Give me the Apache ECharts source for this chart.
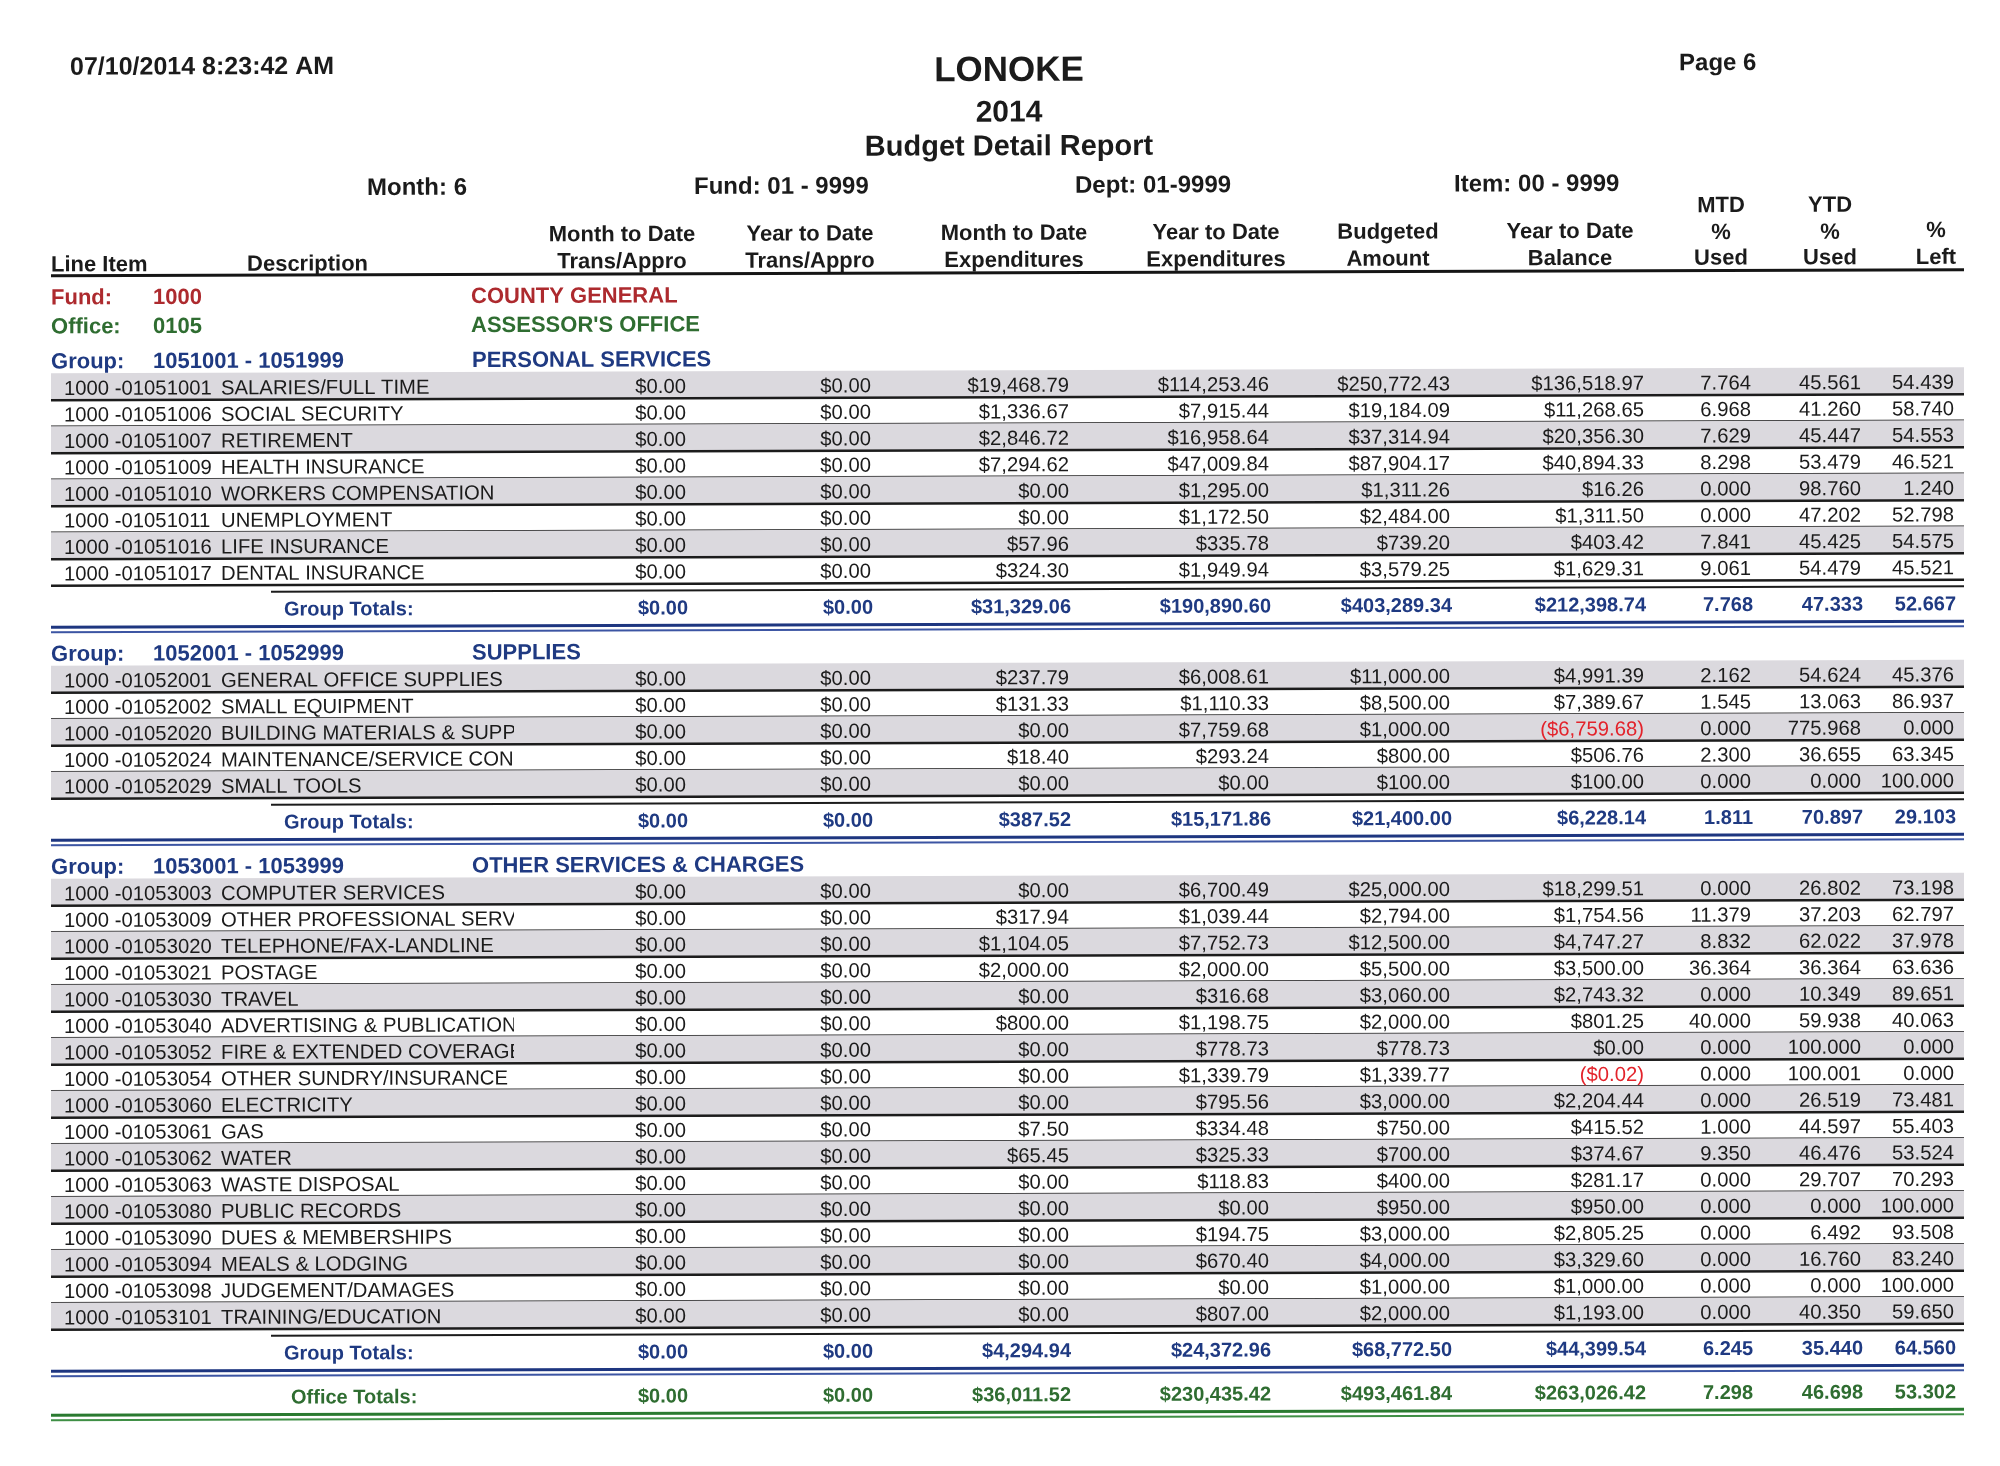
<!DOCTYPE html>
<html>
<head>
<meta charset="utf-8">
<script src="https://cdn.jsdelivr.net/npm/echarts@6/dist/echarts.min.js"></script>
<style>
html, body { margin: 0; padding: 0; background: #fff; }
#main { width: 2000px; height: 1466px; }
</style>
</head>
<body>
<div id="main"></div>
<script>
// report header texts
const runStamp = '07/10/2014 8:23:42 AM'
const pageLabel = 'Page 6'
const reportTitle = ['LONOKE', '2014', 'Budget Detail Report']
const filters = ['Month: 6', 'Fund: 01 - 9999', 'Dept: 01-9999', 'Item: 00 - 9999']
const columnHeads = [
  ['Month to Date', 'Trans/Appro'],
  ['Year to Date', 'Trans/Appro'],
  ['Month to Date', 'Expenditures'],
  ['Year to Date', 'Expenditures'],
  ['Budgeted', 'Amount'],
  ['Year to Date', 'Balance'],
  ['MTD', '%', 'Used'],
  ['YTD', '%', 'Used'],
  ['%', 'Left']
]
const fundLine = ['Fund:', '1000', 'COUNTY GENERAL']
const officeLine = ['Office:', '0105', "ASSESSOR'S OFFICE"]

const groupCodes = ['1051001 - 1051999', '1052001 - 1052999', '1053001 - 1053999']
const groupNames = ['PERSONAL SERVICES', 'SUPPLIES', 'OTHER SERVICES & CHARGES']

// account, description, MTD trans, YTD trans, MTD exp, YTD exp, budget, YTD balance, MTD %, YTD %, % left
const personalServices = [
  ['1000 -01051001', 'SALARIES/FULL TIME', 0, 0, 19468.79, 114253.46, 250772.43, 136518.97, 7.764, 45.561, 54.439],
  ['1000 -01051006', 'SOCIAL SECURITY', 0, 0, 1336.67, 7915.44, 19184.09, 11268.65, 6.968, 41.260, 58.740],
  ['1000 -01051007', 'RETIREMENT', 0, 0, 2846.72, 16958.64, 37314.94, 20356.30, 7.629, 45.447, 54.553],
  ['1000 -01051009', 'HEALTH INSURANCE', 0, 0, 7294.62, 47009.84, 87904.17, 40894.33, 8.298, 53.479, 46.521],
  ['1000 -01051010', 'WORKERS COMPENSATION', 0, 0, 0, 1295.00, 1311.26, 16.26, 0.000, 98.760, 1.240],
  ['1000 -01051011', 'UNEMPLOYMENT', 0, 0, 0, 1172.50, 2484.00, 1311.50, 0.000, 47.202, 52.798],
  ['1000 -01051016', 'LIFE INSURANCE', 0, 0, 57.96, 335.78, 739.20, 403.42, 7.841, 45.425, 54.575],
  ['1000 -01051017', 'DENTAL INSURANCE', 0, 0, 324.30, 1949.94, 3579.25, 1629.31, 9.061, 54.479, 45.521]
]
const personalTotals = [0, 0, 31329.06, 190890.60, 403289.34, 212398.74, 7.768, 47.333, 52.667]

const supplies = [
  ['1000 -01052001', 'GENERAL OFFICE SUPPLIES', 0, 0, 237.79, 6008.61, 11000.00, 4991.39, 2.162, 54.624, 45.376],
  ['1000 -01052002', 'SMALL EQUIPMENT', 0, 0, 131.33, 1110.33, 8500.00, 7389.67, 1.545, 13.063, 86.937],
  ['1000 -01052020', 'BUILDING MATERIALS & SUPPLIES', 0, 0, 0, 7759.68, 1000.00, -6759.68, 0.000, 775.968, 0.000],
  ['1000 -01052024', 'MAINTENANCE/SERVICE CONTRACTS', 0, 0, 18.40, 293.24, 800.00, 506.76, 2.300, 36.655, 63.345],
  ['1000 -01052029', 'SMALL TOOLS', 0, 0, 0, 0, 100.00, 100.00, 0.000, 0.000, 100.000]
]
const suppliesTotals = [0, 0, 387.52, 15171.86, 21400.00, 6228.14, 1.811, 70.897, 29.103]

const otherServices = [
  ['1000 -01053003', 'COMPUTER SERVICES', 0, 0, 0, 6700.49, 25000.00, 18299.51, 0.000, 26.802, 73.198],
  ['1000 -01053009', 'OTHER PROFESSIONAL SERVICES', 0, 0, 317.94, 1039.44, 2794.00, 1754.56, 11.379, 37.203, 62.797],
  ['1000 -01053020', 'TELEPHONE/FAX-LANDLINE', 0, 0, 1104.05, 7752.73, 12500.00, 4747.27, 8.832, 62.022, 37.978],
  ['1000 -01053021', 'POSTAGE', 0, 0, 2000.00, 2000.00, 5500.00, 3500.00, 36.364, 36.364, 63.636],
  ['1000 -01053030', 'TRAVEL', 0, 0, 0, 316.68, 3060.00, 2743.32, 0.000, 10.349, 89.651],
  ['1000 -01053040', 'ADVERTISING & PUBLICATIONS', 0, 0, 800.00, 1198.75, 2000.00, 801.25, 40.000, 59.938, 40.063],
  ['1000 -01053052', 'FIRE & EXTENDED COVERAGE', 0, 0, 0, 778.73, 778.73, 0.00, 0.000, 100.000, 0.000],
  ['1000 -01053054', 'OTHER SUNDRY/INSURANCE', 0, 0, 0, 1339.79, 1339.77, -0.02, 0.000, 100.001, 0.000],
  ['1000 -01053060', 'ELECTRICITY', 0, 0, 0, 795.56, 3000.00, 2204.44, 0.000, 26.519, 73.481],
  ['1000 -01053061', 'GAS', 0, 0, 7.50, 334.48, 750.00, 415.52, 1.000, 44.597, 55.403],
  ['1000 -01053062', 'WATER', 0, 0, 65.45, 325.33, 700.00, 374.67, 9.350, 46.476, 53.524],
  ['1000 -01053063', 'WASTE DISPOSAL', 0, 0, 0, 118.83, 400.00, 281.17, 0.000, 29.707, 70.293],
  ['1000 -01053080', 'PUBLIC RECORDS', 0, 0, 0, 0, 950.00, 950.00, 0.000, 0.000, 100.000],
  ['1000 -01053090', 'DUES & MEMBERSHIPS', 0, 0, 0, 194.75, 3000.00, 2805.25, 0.000, 6.492, 93.508],
  ['1000 -01053094', 'MEALS & LODGING', 0, 0, 0, 670.40, 4000.00, 3329.60, 0.000, 16.760, 83.240],
  ['1000 -01053098', 'JUDGEMENT/DAMAGES', 0, 0, 0, 0, 1000.00, 1000.00, 0.000, 0.000, 100.000],
  ['1000 -01053101', 'TRAINING/EDUCATION', 0, 0, 0, 807.00, 2000.00, 1193.00, 0.000, 40.350, 59.650]
]
const otherTotals = [0, 0, 4294.94, 24372.96, 68772.50, 44399.54, 6.245, 35.440, 64.560]
const officeTotals = [0, 0, 36011.52, 230435.42, 493461.84, 263026.42, 7.298, 46.698, 53.302]

const groupRows = [personalServices, supplies, otherServices]
const groupTotals = [personalTotals, suppliesTotals, otherTotals]

// ---- layout ----
const FONT = '"Liberation Sans", Arial, sans-serif'
const TILT = 0.0032          // the scan leans a little
const TEXT_DY = 2.5          // canvas "middle" sits a touch above the printed cap centre
const LEFT = 51, RIGHT = 1964
const DESC_CLIP = 514        // the printed description field is cut here
const colRight = [686, 871, 1069, 1269, 1450, 1644, 1751, 1861, 1954]
const colCenter = [622, 810, 1014, 1216, 1388, 1570, 1721, 1830, 1936]
const INK = '#1b1b1b'
const RED = '#ad2a2e', GREEN = '#2f6d31', NAVY = '#1f3a82', NEG = '#e3232b'

function money(v) {
  const s = '$' + Math.abs(v).toLocaleString('en-US', { minimumFractionDigits: 2, maximumFractionDigits: 2 })
  return v < 0 ? '(' + s + ')' : s
}
function cell(v, i) { return i >= 6 ? v.toFixed(3) : money(v) }

// build the list of printed lines
const lines = [{ kind: 'head', y: 0 }, { kind: 'label', y: 296, parts: fundLine, color: RED }, { kind: 'label', y: 325, parts: officeLine, color: GREEN }]
let y = 360
groupRows.forEach((items, g) => {
  lines.push({ kind: 'group', y, g })
  y += 27
  items.forEach((it, k) => {
    lines.push({ kind: 'item', y, it, shade: k % 2 === 0, last: k === items.length - 1 })
    y += 26.5
  })
  y += 36 - 26.5
  lines.push({ kind: 'totals', y, vals: groupTotals[g], label: 'Group Totals:', color: NAVY, lineColor: ['#1e3680', '#3c55a3'], lx: 284 })
  y += 44
})
lines.push({ kind: 'totals', y: y, vals: officeTotals, label: 'Office Totals:', color: GREEN, lineColor: ['#2a7a30', '#3f8f45'], lx: 291 })

function renderLine(params, api) {
  const row = lines[params.dataIndex]
  const base = api.value(1)
  const P = (x, yy) => api.coord([x, yy - TILT * x])
  const kids = []
  const textEl = (x, yy, str, size, bold, fill, align) => {
    const p = P(x, yy + TEXT_DY)
    return {
      type: 'text', x: p[0], y: p[1], rotation: TILT,
      style: {
        text: str, fill: fill,
        font: (bold ? 'bold ' : '') + size + 'px ' + FONT,
        textAlign: align || 'left', textVerticalAlign: 'middle',
        align: align || 'left', verticalAlign: 'middle'
      }
    }
  }
  const text = (x, yy, str, size, bold, fill, align) => kids.push(textEl(x, yy, str, size, bold, fill, align))
  const hline = (x1, x2, yy, color, w) => {
    const a = P(x1, yy), b = P(x2, yy)
    kids.push({ type: 'line', shape: { x1: a[0], y1: a[1], x2: b[0], y2: b[1] }, style: { stroke: color, lineWidth: w } })
  }
  const band = (x1, x2, y1, y2, color) => {
    kids.push({ type: 'polygon', shape: { points: [P(x1, y1), P(x2, y1), P(x2, y2), P(x1, y2)] }, style: { fill: color } })
  }

  if (row.kind === 'head') {
    text(70, 65.5, runStamp, 25, true, INK)
    text(1009, 72, reportTitle[0], 35, true, INK, 'center')
    text(1009, 114, reportTitle[1], 30, true, INK, 'center')
    text(1009, 148, reportTitle[2], 29, true, INK, 'center')
    text(1679, 66.5, pageLabel, 24, true, INK)
    const fx = [367, 694, 1075, 1454]
    filters.forEach((f, i) => text(fx[i], 187, f, 24, true, INK))
    columnHeads.forEach((h, i) => {
      const ys = h.length === 3 ? [209, 236, 261.5] : [234.5, 261.5]
      h.forEach((s, j) => text(colCenter[i], ys[j], s, 22, true, INK, 'center'))
    })
    text(51, 263, 'Line Item', 22, true, INK)
    text(247, 263, 'Description', 22, true, INK)
    hline(LEFT, RIGHT, 276, '#151515', 3)
  } else if (row.kind === 'label') {
    text(51, base, row.parts[0], 22, true, row.color)
    text(153, base, row.parts[1], 22, true, row.color)
    text(471, base, row.parts[2], 22, true, row.color)
  } else if (row.kind === 'group') {
    text(51, base, 'Group:', 22, true, NAVY)
    text(153, base, groupCodes[row.g], 22, true, NAVY)
    text(472, base, groupNames[row.g], 22, true, NAVY)
  } else if (row.kind === 'item') {
    if (row.shade) band(LEFT, RIGHT, base - 13.5, base + 13, '#dbd9de')
    hline(LEFT, RIGHT, base + 13.5, '#1c1c1c', 2.5)
    if (row.last) hline(271, RIGHT, base + 20, '#1c1c1c', 2)
    text(64, base, row.it[0], 20.3, false, INK)
    const c = P(210, base - 14)
    kids.push({
      type: 'group',
      clipPath: { type: 'rect', shape: { x: c[0], y: c[1], width: DESC_CLIP - 210, height: 30 } },
      children: [textEl(221, base, row.it[1], 20.3, false, INK)]
    })
    row.it.slice(2).forEach((v, i) => text(colRight[i], base, cell(v, i), 20.3, false, v < 0 ? NEG : INK, 'right'))
  } else if (row.kind === 'totals') {
    text(row.lx, base, row.label, 20, true, row.color)
    row.vals.forEach((v, i) => text(colRight[i] + 2, base, cell(v, i), 20, true, row.color, 'right'))
    hline(LEFT, RIGHT, base + 19, row.lineColor[0], 3)
    hline(LEFT, RIGHT, base + 24, row.lineColor[1], 2)
  }
  return { type: 'group', children: kids }
}

const myChart = echarts.init(document.getElementById('main'), null, { renderer: 'canvas' })
myChart.setOption({
  animation: false,
  backgroundColor: '#ffffff',
  grid: { left: 0, right: 0, top: 0, bottom: 0 },
  xAxis: { type: 'value', min: 0, max: 2000, show: false },
  yAxis: { type: 'value', min: 0, max: 1466, inverse: true, show: false },
  series: [{
    type: 'custom',
    coordinateSystem: 'cartesian2d',
    silent: true,
    clip: false,
    renderItem: renderLine,
    data: lines.map(r => [0, r.y])
  }]
})
</script>
</body>
</html>
